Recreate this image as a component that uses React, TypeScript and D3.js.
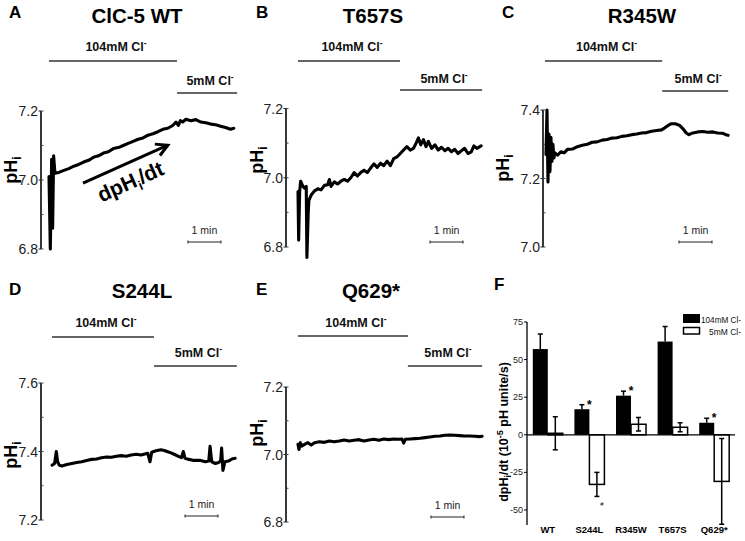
import React from "react";
import * as d3 from "d3";

const FONT = '"Liberation Sans", Arial, Helvetica, sans-serif';

// ---- trace data: [time (min), pHi] ----
const traceA: [number, number][] = [
  [0, 7.01], [0.04, 6.8], [0.08, 7.06], [0.11, 6.86], [0.14, 7.07], [0.18, 7.02],
  [0.3, 7.022], [0.45, 7.028], [0.6, 7.033], [0.75, 7.04], [0.9, 7.045], [1.05, 7.052],
  [1.2, 7.057], [1.35, 7.066], [1.5, 7.07], [1.65, 7.078], [1.8, 7.082], [1.95, 7.091],
  [2.1, 7.094], [2.25, 7.1], [2.4, 7.106], [2.55, 7.112], [2.7, 7.118], [2.85, 7.122],
  [3.0, 7.13], [3.15, 7.134], [3.3, 7.14], [3.45, 7.147], [3.6, 7.15], [3.75, 7.158],
  [3.85, 7.168], [3.92, 7.158], [3.98, 7.172], [4.05, 7.168], [4.15, 7.176], [4.3, 7.172],
  [4.45, 7.175], [4.6, 7.168], [4.75, 7.166], [4.9, 7.162], [5.05, 7.16], [5.2, 7.156],
  [5.35, 7.152], [5.5, 7.147], [5.6, 7.15],
];
const traceB: [number, number][] = [
  [0, 6.96], [0.02, 6.82], [0.05, 6.96], [0.08, 6.99], [0.15, 6.975], [0.2, 6.97],
  [0.25, 6.975], [0.27, 6.77], [0.31, 6.9], [0.33, 6.935], [0.4, 6.95], [0.5, 6.962],
  [0.6, 6.968], [0.7, 6.965], [0.8, 6.978], [0.9, 6.98], [0.95, 6.995], [1.0, 6.975],
  [1.1, 6.988], [1.2, 6.982], [1.3, 6.99], [1.4, 6.995], [1.5, 6.99], [1.6, 7.0],
  [1.7, 7.015], [1.8, 7.005], [1.9, 7.015], [2.0, 7.022], [2.1, 7.015], [2.2, 7.028],
  [2.3, 7.04], [2.4, 7.03], [2.5, 7.042], [2.6, 7.035], [2.7, 7.048], [2.8, 7.035],
  [2.9, 7.055], [3.0, 7.06], [3.1, 7.07], [3.2, 7.08], [3.3, 7.09], [3.4, 7.08],
  [3.5, 7.085], [3.58, 7.1], [3.65, 7.115], [3.72, 7.095], [3.8, 7.11], [3.88, 7.09],
  [3.95, 7.105], [4.05, 7.085], [4.15, 7.095], [4.25, 7.08], [4.35, 7.088], [4.45, 7.078],
  [4.55, 7.085], [4.65, 7.075], [4.75, 7.082], [4.85, 7.07], [4.95, 7.078], [5.05, 7.085],
  [5.15, 7.07], [5.25, 7.075], [5.33, 7.092], [5.42, 7.085], [5.55, 7.092],
];
const traceC: [number, number][] = [
  [0, 7.27], [0.03, 7.4], [0.06, 7.19], [0.09, 7.33], [0.12, 7.22], [0.15, 7.32],
  [0.18, 7.25], [0.21, 7.3], [0.24, 7.26], [0.27, 7.275], [0.35, 7.268], [0.45, 7.278],
  [0.55, 7.275], [0.65, 7.285], [0.8, 7.286], [0.95, 7.293], [1.1, 7.297], [1.25, 7.3],
  [1.4, 7.306], [1.55, 7.307], [1.7, 7.312], [1.85, 7.314], [2.0, 7.318], [2.15, 7.319],
  [2.3, 7.323], [2.45, 7.325], [2.6, 7.328], [2.75, 7.33], [2.9, 7.333], [3.05, 7.334],
  [3.2, 7.338], [3.35, 7.34], [3.5, 7.342], [3.6, 7.348], [3.7, 7.355], [3.8, 7.36],
  [3.92, 7.36], [4.05, 7.355], [4.15, 7.345], [4.25, 7.333], [4.33, 7.328], [4.45, 7.333],
  [4.6, 7.336], [4.75, 7.337], [4.9, 7.335], [5.05, 7.336], [5.2, 7.333], [5.35, 7.332],
  [5.45, 7.328], [5.52, 7.326],
];
const traceD: [number, number][] = [
  [0, 7.36], [0.08, 7.365], [0.13, 7.4], [0.17, 7.37], [0.22, 7.36], [0.3, 7.358],
  [0.45, 7.362], [0.6, 7.365], [0.75, 7.368], [0.9, 7.37], [1.05, 7.374], [1.2, 7.377],
  [1.35, 7.378], [1.5, 7.382], [1.65, 7.384], [1.8, 7.383], [1.95, 7.386], [2.1, 7.388],
  [2.25, 7.386], [2.4, 7.39], [2.55, 7.392], [2.7, 7.39], [2.9, 7.395], [2.97, 7.37],
  [3.02, 7.398], [3.15, 7.402], [3.3, 7.405], [3.4, 7.403], [3.55, 7.398], [3.7, 7.392],
  [3.85, 7.385], [3.92, 7.382], [3.98, 7.4], [4.03, 7.38], [4.15, 7.377], [4.3, 7.374],
  [4.5, 7.374], [4.65, 7.37], [4.75, 7.372], [4.79, 7.415], [4.84, 7.37], [4.95, 7.365],
  [5.05, 7.368], [5.11, 7.372], [5.14, 7.41], [5.18, 7.345], [5.24, 7.37], [5.35, 7.372],
  [5.45, 7.378], [5.55, 7.38],
];
const traceE: [number, number][] = [
  [0, 7.03], [0.03, 7.015], [0.07, 7.035], [0.12, 7.025], [0.2, 7.03], [0.3, 7.035],
  [0.4, 7.028], [0.5, 7.035], [0.65, 7.038], [0.8, 7.036], [0.95, 7.04], [1.1, 7.038],
  [1.25, 7.04], [1.4, 7.043], [1.55, 7.04], [1.7, 7.042], [1.85, 7.044], [2.0, 7.04],
  [2.15, 7.043], [2.3, 7.045], [2.45, 7.042], [2.6, 7.046], [2.75, 7.044], [2.9, 7.046],
  [3.05, 7.045], [3.15, 7.046], [3.2, 7.034], [3.25, 7.045], [3.4, 7.046], [3.55, 7.047],
  [3.7, 7.048], [3.85, 7.05], [4.0, 7.052], [4.15, 7.054], [4.3, 7.055], [4.45, 7.057],
  [4.6, 7.058], [4.75, 7.057], [4.9, 7.056], [5.05, 7.055], [5.2, 7.055], [5.35, 7.054],
  [5.5, 7.053], [5.58, 7.054],
];

// y domains & tick labels
const domainA = [6.8, 7.2], ticksA = [6.8, 7.0, 7.2];
const domainB = [6.8, 7.2], ticksB = [6.8, 7.0, 7.2];
const domainC = [7.0, 7.4], ticksC = [7.0, 7.2, 7.4];
const domainD = [7.2, 7.6], ticksD = [7.2, 7.4, 7.6];
const domainE = [6.8, 7.2], ticksE = [6.8, 7.0, 7.2];

// solution changes (min): start 104mM, switch to 5mM, end
const solA = [0, 3.88, 5.7];
const solB = [0, 3.09, 5.58];
const solC = [-0.03, 3.52, 5.52];
const solD = [0, 3.09, 5.6];
const solE = [0, 3.33, 5.58];
// scale bar start (min)
const scaleA = 4.21, scaleB = 4.0, scaleC = 4.03, scaleD = 4.03, scaleE = 4.03;

// ---- panel F data ----
const categories = ["WT", "S244L", "R345W", "T657S", "Q629*"];
const rate104 = [57, 17, 26, 62, 8];
const err104 = [10, 3, 3, 10, 3];
const rate5 = [1, -33, 7, 5, -31];
const err5 = [11, 8, 4.5, 3, 28.5];
const star104 = ["", "*", "*", "", "*"];
const hash5 = ["", "#", "", "", ""];
const ticksF = [75, 50, 25, 0, -25, -50];

const PX_PER_MIN = 33;

type Cfg = {
  letter: string; letterX: number; letterY: number;
  title: string; titleX: number; titleY: number;
  axisX: number; yTop: number; yBottom: number; x0: number;
  bar104Y: number; lab104Y: number; bar5Y: number; lab5Y: number;
  scaleY: number; pHiX: number; pHiY: number;
};

function ClLabel({ x, y, mm }: { x: number; y: number; mm: string }) {
  return (
    <text x={x} y={y} textAnchor="middle" fontFamily={FONT} fontWeight="bold" fontSize={12.5} fill="#111">
      {mm}mM Cl<tspan dy={-5} fontSize={8.5}>-</tspan>
    </text>
  );
}

function TracePanel({ cfg, data, domain, ticks, sol, scaleStart, children }: {
  cfg: Cfg; data: [number, number][]; domain: number[]; ticks: number[]; sol: number[]; scaleStart: number; children?: any;
}) {
  const y = d3.scaleLinear().domain(domain).range([cfg.yBottom, cfg.yTop]);
  const x = d3.scaleLinear().domain([0, 1]).range([cfg.x0, cfg.x0 + PX_PER_MIN]);
  const line = d3.line<[number, number]>().x((d) => x(d[0])).y((d) => y(d[1]));
  const minor = y.ticks(4);
  return (
    <g>
      <text x={cfg.letterX} y={cfg.letterY} fontFamily={FONT} fontWeight="bold" fontSize={17}>{cfg.letter}</text>
      <text x={cfg.titleX} y={cfg.titleY} textAnchor="middle" fontFamily={FONT} fontWeight="bold" fontSize={20.5}>{cfg.title}</text>
      {/* solution bars */}
      <line x1={x(sol[0])} x2={x(sol[1])} y1={cfg.bar104Y} y2={cfg.bar104Y} stroke="#333" strokeWidth={1.4} />
      <ClLabel x={(x(sol[0]) + x(sol[1])) / 2 + 3} y={cfg.lab104Y} mm="104" />
      <line x1={x(sol[1])} x2={x(sol[2])} y1={cfg.bar5Y} y2={cfg.bar5Y} stroke="#333" strokeWidth={1.4} />
      <ClLabel x={(x(sol[1]) + x(sol[2])) / 2 + 3} y={cfg.lab5Y} mm="5" />
      {/* y axis */}
      <line x1={cfg.axisX} x2={cfg.axisX} y1={y(domain[1])} y2={y(domain[0])} stroke="#222" strokeWidth={1.8} />
      {minor.map((t) => (
        <line key={"m" + t} x1={cfg.axisX} x2={cfg.axisX + 2.5} y1={y(t)} y2={y(t)} stroke="#444" strokeWidth={1} />
      ))}
      {ticks.map((t) => (
        <g key={t}>
          <line x1={cfg.axisX - 2.5} x2={cfg.axisX} y1={y(t)} y2={y(t)} stroke="#222" strokeWidth={1} />
          <text x={cfg.axisX - 3} y={y(t) + 5} textAnchor="end" fontFamily={FONT} fontSize={14} fill="#222">{t.toFixed(1)}</text>
        </g>
      ))}
      <text transform={`translate(${cfg.pHiX},${cfg.pHiY}) rotate(-90)`} textAnchor="middle" fontFamily={FONT} fontWeight="bold" fontSize={18}>
        pH<tspan dy={4} fontSize={12}>i</tspan>
      </text>
      {/* trace */}
      <path d={line(data) || ""} fill="none" stroke="#000" strokeWidth={3.1} strokeLinejoin="round" strokeLinecap="round" />
      {/* scale bar */}
      <line x1={x(scaleStart)} x2={x(scaleStart + 1)} y1={cfg.scaleY} y2={cfg.scaleY} stroke="#222" strokeWidth={1} />
      <line x1={x(scaleStart)} x2={x(scaleStart)} y1={cfg.scaleY - 1.5} y2={cfg.scaleY + 1.5} stroke="#222" strokeWidth={1} />
      <line x1={x(scaleStart + 1)} x2={x(scaleStart + 1)} y1={cfg.scaleY - 1.5} y2={cfg.scaleY + 1.5} stroke="#222" strokeWidth={1} />
      <text x={x(scaleStart + 0.5)} y={cfg.scaleY - 8} textAnchor="middle" fontFamily={FONT} fontSize={10.5} fill="#222">1 min</text>
      {children ? children(x, y) : null}
    </g>
  );
}

const cfgA: Cfg = { letter: "A", letterX: 9, letterY: 18, title: "ClC-5 WT", titleX: 137, titleY: 23, axisX: 41, yTop: 111, yBottom: 249, x0: 49, bar104Y: 61, lab104Y: 51, bar5Y: 93, lab5Y: 85, scaleY: 242, pHiX: 17, pHiY: 170 };
const cfgB: Cfg = { letter: "B", letterX: 256, letterY: 18, title: "T657S", titleX: 373, titleY: 23, axisX: 286, yTop: 108.5, yBottom: 247, x0: 298, bar104Y: 61, lab104Y: 51, bar5Y: 90, lab5Y: 83, scaleY: 242, pHiX: 263, pHiY: 160 };
const cfgC: Cfg = { letter: "C", letterX: 502, letterY: 18, title: "R345W", titleX: 642, titleY: 23, axisX: 543, yTop: 110, yBottom: 247, x0: 546, bar104Y: 61, lab104Y: 51, bar5Y: 91, lab5Y: 83, scaleY: 242, pHiX: 509, pHiY: 168 };
const cfgD: Cfg = { letter: "D", letterX: 9, letterY: 295, title: "S244L", titleX: 142, titleY: 298, axisX: 41, yTop: 383, yBottom: 520, x0: 52, bar104Y: 337, lab104Y: 327, bar5Y: 366, lab5Y: 357, scaleY: 516, pHiX: 17, pHiY: 455 };
const cfgE: Cfg = { letter: "E", letterX: 256, letterY: 295, title: "Q629*", titleX: 371, titleY: 298, axisX: 286, yTop: 387, yBottom: 522, x0: 298, bar104Y: 336, lab104Y: 327, bar5Y: 366, lab5Y: 357, scaleY: 517, pHiX: 263, pHiY: 433 };

// arrow annotation in panel A, data coords
const arrowA: [number, number][] = [[1.03, 6.991], [3.6, 7.101]];

function ArrowA(x: any, y: any) {
  const [p0, p1] = arrowA;
  const x0 = x(p0[0]), y0 = y(p0[1]), x1 = x(p1[0]), y1 = y(p1[1]);
  const ang = Math.atan2(y1 - y0, x1 - x0);
  const L = 13, a = 0.5;
  const h1 = [x1 - L * Math.cos(ang - a), y1 - L * Math.sin(ang - a)];
  const h2 = [x1 - L * Math.cos(ang + a), y1 - L * Math.sin(ang + a)];
  const deg = (ang * 180) / Math.PI;
  const cx = (x0 + x1) / 2 + 8, cy = (y0 + y1) / 2 + 24;
  return (
    <g>
      <line x1={x0} y1={y0} x2={x1} y2={y1} stroke="#000" strokeWidth={3} />
      <polyline points={`${h1[0]},${h1[1]} ${x1},${y1} ${h2[0]},${h2[1]}`} fill="none" stroke="#000" strokeWidth={3} />
      <text transform={`translate(${cx},${cy}) rotate(${deg})`} textAnchor="middle" fontFamily={FONT} fontWeight="bold" fontSize={21}>
        dpH<tspan dy={5} fontSize={13}>i</tspan><tspan dy={-5}>/dt</tspan>
      </text>
    </g>
  );
}

function PanelF() {
  const y = d3.scaleLinear().domain([-60, 75]).range([525, 322]);
  const x = d3.scaleBand().domain(categories).range([527, 735]);
  const bw = 15;
  const axisX = 527;
  return (
    <g fontFamily={FONT}>
      <text x={494} y={290} fontWeight="bold" fontSize={17}>F</text>
      {/* legend */}
      <rect x={683} y={314} width={17} height={9} fill="#000" />
      <text x={701} y={322.5} fontSize={9} fill="#111" textLength={40} lengthAdjust="spacingAndGlyphs">104mM Cl-</text>
      <rect x={683.5} y={327.5} width={16} height={6.5} fill="#fff" stroke="#000" strokeWidth={1.5} />
      <text x={709} y={335} fontSize={9} fill="#111" textLength={32} lengthAdjust="spacingAndGlyphs">5mM Cl-</text>
      {/* bars */}
      {categories.map((c, i) => {
        const cx = (x(c) as number) + x.bandwidth() / 2;
        const top104 = y(rate104[i] + err104[i]);
        const lo5 = y(rate5[i] - err5[i]);
        const hi5 = y(rate5[i] + err5[i]);
        return (
          <g key={c}>
            <rect x={cx - bw} width={bw} y={Math.min(y(rate104[i]), y(0))} height={Math.abs(y(rate104[i]) - y(0))} fill="#000" />
            <line x1={cx - bw / 2} x2={cx - bw / 2} y1={y(rate104[i])} y2={top104} stroke="#000" strokeWidth={1.5} />
            <line x1={cx - bw / 2 - 2.5} x2={cx - bw / 2 + 2.5} y1={top104} y2={top104} stroke="#000" strokeWidth={1.5} />
            <rect x={cx} width={bw} y={Math.min(y(rate5[i]), y(0))} height={Math.max(Math.abs(y(rate5[i]) - y(0)), 1.5)} fill="#fff" stroke="#000" strokeWidth={1.5} />
            <line x1={cx + bw / 2} x2={cx + bw / 2} y1={lo5} y2={hi5} stroke="#000" strokeWidth={1.5} />
            <line x1={cx + bw / 2 - 2.5} x2={cx + bw / 2 + 2.5} y1={lo5} y2={lo5} stroke="#000" strokeWidth={1.5} />
            <line x1={cx + bw / 2 - 2.5} x2={cx + bw / 2 + 2.5} y1={hi5} y2={hi5} stroke="#000" strokeWidth={1.5} />
            {star104[i] && (
              <text x={cx} y={top104 + 4} textAnchor="middle" fontSize={12} fontWeight="bold">{star104[i]}</text>
            )}
            {hash5[i] && (
              <text x={cx + bw / 2 + 5} y={lo5 + 10} textAnchor="middle" fontSize={6}>{hash5[i]}</text>
            )}
            <text x={cx} y={533} textAnchor="middle" fontSize={9.5} fontWeight="bold">{c}</text>
          </g>
        );
      })}
      {/* axes */}
      <line x1={axisX} x2={735} y1={y(0)} y2={y(0)} stroke="#000" strokeWidth={1.3} />
      <line x1={axisX} x2={axisX} y1={y(75)} y2={y(-60)} stroke="#000" strokeWidth={1.3} />
      {ticksF.map((t) => (
        <g key={t}>
          <line x1={axisX - 3} x2={axisX} y1={y(t)} y2={y(t)} stroke="#000" strokeWidth={1} />
          <text x={axisX - 4} y={y(t) + 3} textAnchor="end" fontSize={9} fill="#222">{t}</text>
        </g>
      ))}
      <text transform={`translate(508,432) rotate(-90)`} textAnchor="middle" fontSize={12.5} fontWeight="bold">
        dpH<tspan dy={3} fontSize={9}>i</tspan><tspan dy={-3}>/dt (10</tspan><tspan dy={-5} fontSize={9}>-5</tspan><tspan dy={5}> pH unite/s)</tspan>
      </text>
    </g>
  );
}

export default function App() {
  return (
    <svg width={745} height={541} style={{ position: "absolute", left: 0, top: 0, background: "#fff" }}>
      <rect width={745} height={541} fill="#fff" />
      <TracePanel cfg={cfgA} data={traceA} domain={domainA} ticks={ticksA} sol={solA} scaleStart={scaleA}>{ArrowA}</TracePanel>
      <TracePanel cfg={cfgB} data={traceB} domain={domainB} ticks={ticksB} sol={solB} scaleStart={scaleB} />
      <TracePanel cfg={cfgC} data={traceC} domain={domainC} ticks={ticksC} sol={solC} scaleStart={scaleC} />
      <TracePanel cfg={cfgD} data={traceD} domain={domainD} ticks={ticksD} sol={solD} scaleStart={scaleD} />
      <TracePanel cfg={cfgE} data={traceE} domain={domainE} ticks={ticksE} sol={solE} scaleStart={scaleE} />
      <PanelF />
    </svg>
  );
}
